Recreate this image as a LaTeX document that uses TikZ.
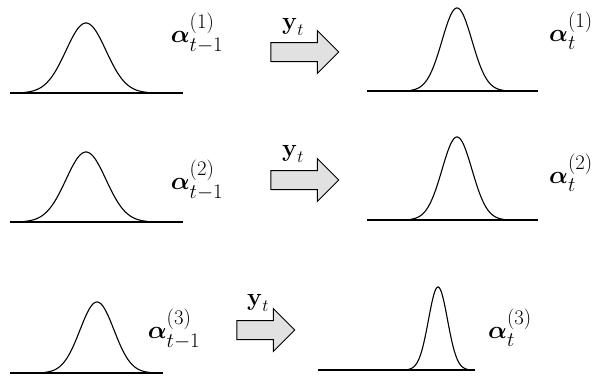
\documentclass[tikz,border=0pt]{standalone}
\usepackage{amsmath}
\usepackage{bm}
\usetikzlibrary{shapes.arrows}
\definecolor{ARROWgray}{RGB}{225, 225, 225}

\begin{document}
\begin{tikzpicture}[x=1pt,y=-1pt,
    curve/.style={line width=1.1pt},
    axis/.style={line width=1.3pt},
    lbl/.style={font=\fontsize{28}{32}\selectfont, inner sep=0pt},
    obs/.style={font=\fontsize{24}{28}\selectfont, inner sep=0pt},
    bigarrow/.style={single arrow, draw, line width=1pt, fill=ARROWgray,
        minimum height=68pt, minimum width=42pt, inner sep=0pt,
        single arrow head extend=12pt, text height=18pt}]
                \useasboundingbox (0,0) rectangle (602,375);
                % baselines
                \foreach \xa/\xb/\y in {10/183/93, 367/538/91, 10/183/222, 367/538/220, 10/163/373, 318/475/370}
                    {\draw[axis] (\xa,\y) -- (\xb,\y);}
                % densities before and after the update
                \foreach \cx/\by/\h/\s in {86/93/70/20, 457/91/83/15, 86/222/70/20, 457/220/83/15, 97/373/71/17, 438/370/83/9.5}
                    {\draw[curve] plot[domain=-3.1*\s:3.1*\s, samples=90, smooth]
                        ({\cx+\x},{\by-\h*exp(-(\x*\x)/(2*\s*\s))});}
                % update arrows
                \node[bigarrow] (u1) at (300,52) {};
                \node[bigarrow] (u2) at (300,180) {};
                \node[bigarrow, minimum height=58pt, minimum width=40pt] (u3) at (261,330) {};
                \node[obs] (y1) at (293,27) {$\bm{\mathrm{y}}_t$};
                \node[obs] (y2) at (293,154) {$\bm{\mathrm{y}}_t$};
                \node[obs] (y3) at (258,303) {$\bm{\mathrm{y}}_t$};
                % state labels
                \node[lbl] (a1) at (197,33) {$\bm{\alpha}_{t-1}^{(1)}$};
                \node[lbl] (b1) at (571,31) {$\bm{\alpha}_{t}^{(1)}$};
                \node[lbl] (a2) at (197,180) {$\bm{\alpha}_{t-1}^{(2)}$};
                \node[lbl] (b2) at (571,173) {$\bm{\alpha}_{t}^{(2)}$};
                \node[lbl] (a3) at (174,329) {$\bm{\alpha}_{t-1}^{(3)}$};
                \node[lbl] (b3) at (510,328) {$\bm{\alpha}_{t}^{(3)}$};
\end{tikzpicture}
\end{document}
